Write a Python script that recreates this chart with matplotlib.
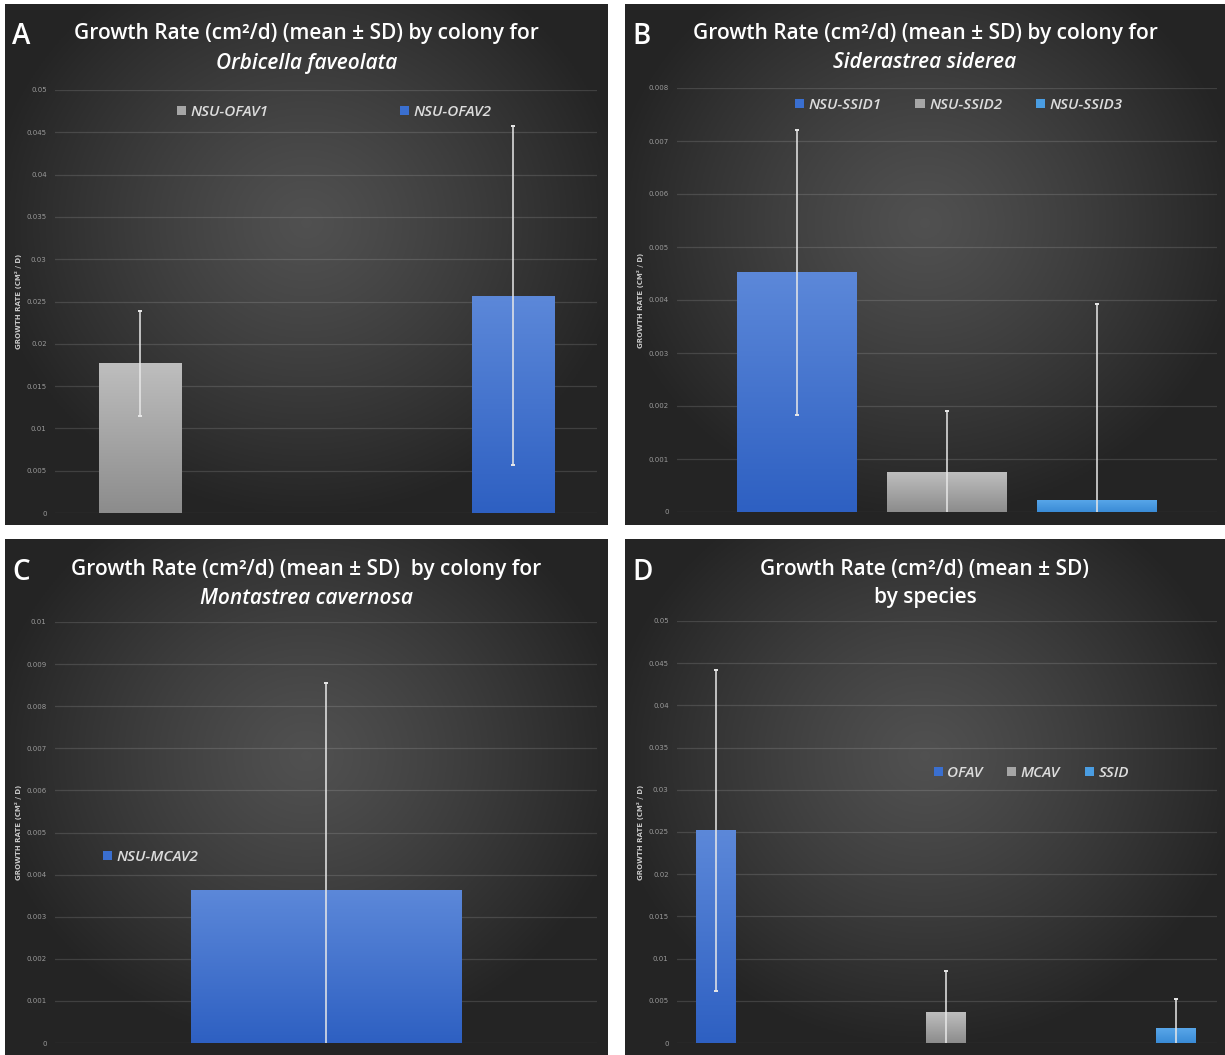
import numpy as np
import matplotlib.pyplot as plt
from matplotlib.font_manager import FontProperties

# growth rates (cm2/d), mean and SD per colony / species
a_labels = ['NSU-OFAV1', 'NSU-OFAV2']
a_mean = [0.0177, 0.0257]
a_sd = [0.0062, 0.0200]

b_labels = ['NSU-SSID1', 'NSU-SSID2', 'NSU-SSID3']
b_mean = [0.00452, 0.00075, 0.00023]
b_sd = [0.00269, 0.00115, 0.00370]

c_labels = ['NSU-MCAV2']
c_mean = [0.00364]
c_sd = [0.00490]

d_labels = ['OFAV', 'MCAV', 'SSID']
d_mean = [0.0252, 0.00364, 0.0018]
d_sd = [0.0190, 0.00490, 0.0034]

BLUE = ('#5c88d9', '#2e60c2', '#3a6fd0')
GRAY = ('#bebebe', '#8c8c8c', '#a6a6a6')
LBLUE = ('#5aa8ea', '#3a8bd6', '#4a9de2')

W, H = 1225, 1055
fig = plt.figure(figsize=(W / 100, H / 100), dpi=100)
fig.patch.set_facecolor('white')


def rect(x0, y0, x1, y1):
    return [x0 / W, 1 - y1 / H, (x1 - x0) / W, (y1 - y0) / H]


def background(box):
    bg = fig.add_axes(rect(*box))
    yy, xx = np.mgrid[0:1:300j, 0:1:300j]
    r = np.sqrt(((xx - 0.5) / 0.85) ** 2 + ((yy - 0.42) / 0.9) ** 2)
    t = np.clip(r / 0.62, 0, 1) ** 1.2
    v = 0.315 * (1 - t) + 0.145 * t
    bg.imshow(np.dstack([v, v, v]), extent=(0, 1, 0, 1), aspect='auto')
    bg.set_axis_off()
    return bg


def title(box, letter, line1, line2, italic2=True):
    cx = (box[0] + box[2]) / 2
    fig.text(cx / W, 1 - (box[1] + 30) / H, line1, ha='center', va='center',
             color='white', fontsize=15, family='Open Sans', weight='semibold')
    fig.text(cx / W, 1 - (box[1] + 59) / H, line2, ha='center', va='center',
             color='white', fontsize=15, family='Open Sans', weight='semibold',
             style='italic' if italic2 else 'normal')
    fig.text((box[0] + 7) / W, 1 - (box[1] + 33) / H, letter, ha='left',
             va='center', color='white', fontsize=20, family='Open Sans',
             weight='semibold')


def bars(plot_box, xs, means, sds, labels, colors, width, xlim, ymax, step,
         fmt, leg_xy, colspace):
    ax = fig.add_axes(rect(*plot_box))
    ax.set_facecolor('none')
    for x, m, lab, col in zip(xs, means, labels, colors):
        cont = ax.bar(x, m, width, color=col[2], label=lab, zorder=2)
        patch = cont.patches[0]
        grad = np.linspace(0, 1, 100)[:, None, None]
        top = np.array(plt.matplotlib.colors.to_rgb(col[0]))
        bot = np.array(plt.matplotlib.colors.to_rgb(col[1]))
        img = top * (1 - grad) + bot * grad
        im = ax.imshow(img, extent=(x - width / 2, x + width / 2, 0, m),
                       aspect='auto', zorder=2.5)
        im.set_clip_path(patch)
    ax.errorbar(xs, means, yerr=sds, fmt='none', ecolor='#e8e8e8',
                elinewidth=1.1, capsize=1.1, capthick=1.4, zorder=3)
    ax.set_xlim(*xlim)
    ax.set_ylim(0, ymax)
    ticks = np.arange(0, ymax + step / 2, step)
    ax.set_yticks(ticks)
    ax.set_yticklabels([fmt(t) for t in ticks])
    ax.set_xticks([])
    ax.grid(axis='y', color='white', alpha=0.13, lw=0.9, zorder=0)
    ax.tick_params(axis='y', length=0, labelsize=5, labelcolor='#9a9a9a',
                   pad=6)
    for s in ax.spines.values():
        s.set_visible(False)
    ax.set_ylabel('GROWTH RATE (CM² / D)', fontsize=5, color='#c8c8c8',
                  weight='bold', labelpad=3)
    ax.legend(loc='center', bbox_to_anchor=leg_xy, ncol=len(labels),
              frameon=False, handlelength=0.6, handleheight=0.6,
              handletextpad=0.3, columnspacing=colspace,
              prop=FontProperties(family='Open Sans', style='italic',
                                  weight='semibold', size=11),
              labelcolor='#dcdcdc')
    return ax


def lab(t):
    if t == 0:
        return '0'
    return ('%.3f' % t).rstrip('0')


# panel A
boxA = (5, 4, 608, 525)
background(boxA)
title(boxA, 'A', 'Growth Rate (cm²/d) (mean ± SD) by colony for',
      'Orbicella faveolata')
bars((55, 90, 597, 513), [0, 1], a_mean, a_sd, a_labels, [GRAY, BLUE],
     0.2225, (-0.228, 1.225), 0.05, 0.005, lab, (0.515, 0.948), 8.6)

# panel B
boxB = (625, 4, 1225, 525)
background(boxB)
title(boxB, 'B', 'Growth Rate (cm²/d) (mean ± SD) by colony for',
      'Siderastrea siderea')
bars((677, 88, 1217, 512), [0, 1, 2], b_mean, b_sd, b_labels,
     [BLUE, GRAY, LBLUE], 0.8, (-0.8, 2.8), 0.008, 0.001, lab,
     (0.522, 0.96), 2.2)

# panel C
boxC = (5, 539, 608, 1055)
background(boxC)
title(boxC, 'C', 'Growth Rate (cm²/d) (mean ± SD)  by colony for',
      'Montastrea cavernosa')
bars((55, 622, 597, 1043), [0], c_mean, c_sd, c_labels, [BLUE], 1.0,
     (-1.0, 1.0), 0.01, 0.001, lab, (0.177, 0.442), 1.0)

# panel D
boxD = (625, 539, 1225, 1055)
background(boxD)
title(boxD, 'D', 'Growth Rate (cm²/d) (mean ± SD)', 'by species',
      italic2=False)
bars((677, 621, 1217, 1043), [0, 1, 2], d_mean, d_sd, d_labels,
     [BLUE, GRAY, LBLUE], 0.174, (-0.17, 2.18), 0.05, 0.005, lab,
     (0.656, 0.64), 1.6)

fig.savefig('out.png', dpi=100)
